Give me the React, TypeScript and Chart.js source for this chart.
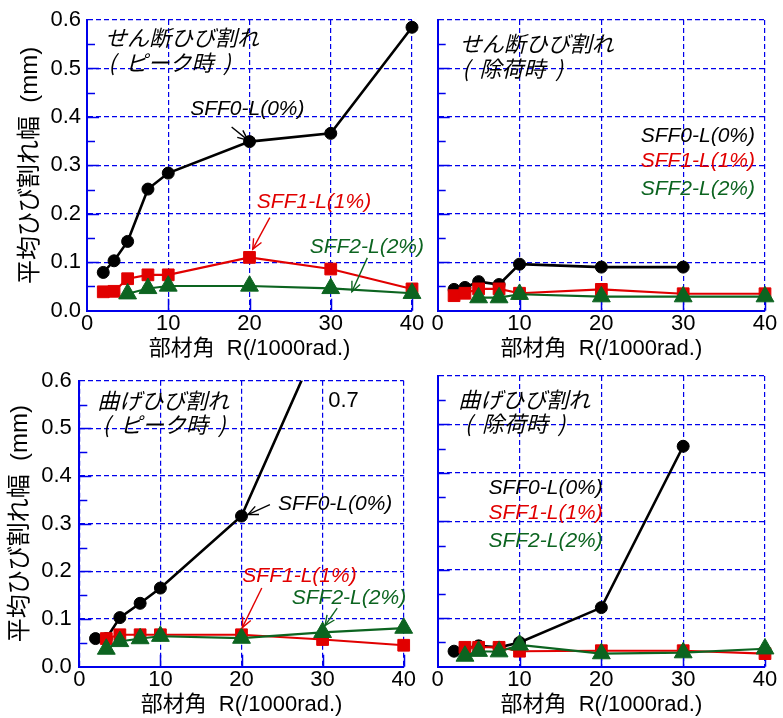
import React, { useEffect, useRef } from 'react';
import { Chart, registerables } from 'chart.js';

Chart.register(...registerables);

// ---------- colours & fonts ----------
const BLUE = 'rgb(0,0,235)';
const BLACK = '#000000';
const RED = 'rgb(225,0,0)';
const GREEN = 'rgb(12,100,32)';
const LAT = '"Liberation Sans", "Noto Sans CJK JP", sans-serif';
const JP = '"Noto Sans CJK JP", sans-serif';

// ---------- axis texts ----------
const X_TITLE = '部材角  R(/1000rad.)';
const Y_TITLE = '平均ひび割れ幅  (mm)';
const SERIES_NAMES = ['SFF0-L(0%)', 'SFF1-L(1%)', 'SFF2-L(2%)'];
const X_MIN = 0, X_MAX = 40, X_STEP = 10;
const Y_MIN = 0, Y_MAX = 0.6, Y_STEP = 0.1;

// ---------- panel 1 : shear crack, at peak ----------
const shearPeak0X = [2, 3.33, 5, 7.5, 10, 20, 30, 40];
const shearPeak0Y = [0.079, 0.103, 0.143, 0.251, 0.284, 0.349, 0.366, 0.585];
const shearPeak1X = [2, 3.33, 5, 7.5, 10, 20, 30, 40];
const shearPeak1Y = [0.039, 0.040, 0.066, 0.074, 0.074, 0.110, 0.086, 0.045];
const shearPeak2X = [5, 7.5, 10, 20, 30, 40];
const shearPeak2Y = [0.035, 0.046, 0.051, 0.051, 0.046, 0.036];

// ---------- panel 2 : shear crack, unloaded ----------
const shearUnl0X = [2, 3.33, 5, 7.5, 10, 20, 30];
const shearUnl0Y = [0.044, 0.048, 0.060, 0.054, 0.096, 0.090, 0.090];
const shearUnl1X = [2, 3.33, 5, 7.5, 10, 20, 30, 40];
const shearUnl1Y = [0.031, 0.036, 0.045, 0.045, 0.036, 0.044, 0.035, 0.035];
const shearUnl2X = [5, 7.5, 10, 20, 30, 40];
const shearUnl2Y = [0.027, 0.027, 0.034, 0.029, 0.029, 0.029];

// ---------- panel 3 : flexural crack, at peak ----------
const flexPeak0X = [2, 3.33, 5, 7.5, 10, 20, 30];
const flexPeak0Y = [0.059, 0.059, 0.103, 0.133, 0.165, 0.316, 0.7];
const flexPeak1X = [3.33, 5, 7.5, 10, 20, 30, 40];
const flexPeak1Y = [0.059, 0.067, 0.067, 0.067, 0.067, 0.057, 0.045];
const flexPeak2X = [3.33, 5, 7.5, 10, 20, 30, 40];
const flexPeak2Y = [0.037, 0.053, 0.059, 0.064, 0.060, 0.072, 0.081];

// ---------- panel 4 : flexural crack, unloaded ----------
const flexUnl0X = [2, 3.33, 5, 7.5, 10, 20, 30];
const flexUnl0Y = [0.032, 0.038, 0.043, 0.040, 0.050, 0.122, 0.455];
const flexUnl1X = [3.33, 5, 7.5, 10, 20, 30, 40];
const flexUnl1Y = [0.040, 0.040, 0.040, 0.032, 0.033, 0.033, 0.027];
const flexUnl2X = [3.33, 5, 7.5, 10, 20, 30, 40];
const flexUnl2Y = [0.022, 0.032, 0.031, 0.045, 0.027, 0.029, 0.037];

// ---------- annotation types ----------
type Note = { kind: 'jp' | 'lab' | 'num'; text: string; x: number; y: number; color: string };
type Arrow = { x1: number; y1: number; x2: number; y2: number; color: string };
type Series = { xs: number[]; ys: number[]; kind: 0 | 1 | 2; clipTop?: boolean };

interface Panel {
  left: number; top: number; width: number; height: number;
  padTop: number; padRight: number; yWidth: number; xHeight: number;
  showY: boolean; yTitlePad: number; yTickPad: number;
  series: Series[]; notes: Note[]; arrows: Arrow[];
}

const COLORS = [BLACK, RED, GREEN];
const STYLES = ['circle', 'rect', 'triangle'];
const RADII = [6, 8.3, 10.3];
const WIDTHS = [2.6, 2.1, 2.1];

const PANELS: Panel[] = [
  {
    left: 0, top: 0, width: 425, height: 362, padTop: 20, padRight: 13, yWidth: 87, xHeight: 51.3,
    showY: true, yTitlePad: 15.6, yTickPad: 6,
    series: [
      { xs: shearPeak0X, ys: shearPeak0Y, kind: 0 },
      { xs: shearPeak1X, ys: shearPeak1Y, kind: 1 },
      { xs: shearPeak2X, ys: shearPeak2Y, kind: 2 },
    ],
    notes: [
      { kind: 'jp', text: 'せん断ひび割れ', x: 2.2, y: 0.563, color: BLACK },
      { kind: 'jp', text: '(  ピーク時  )', x: 2.6, y: 0.512, color: BLACK },
      { kind: 'lab', text: SERIES_NAMES[0], x: 12.7, y: 0.415, color: BLACK },
      { kind: 'lab', text: SERIES_NAMES[1], x: 20.9, y: 0.225, color: RED },
      { kind: 'lab', text: SERIES_NAMES[2], x: 27.4, y: 0.132, color: GREEN },
    ],
    arrows: [
      { x1: 17.8, y1: 0.379, x2: 19.8, y2: 0.352, color: BLACK },
      { x1: 22.5, y1: 0.192, x2: 20.4, y2: 0.127, color: RED },
      { x1: 34.5, y1: 0.109, x2: 32.6, y2: 0.039, color: GREEN },
    ],
  },
  {
    left: 420, top: 0, width: 363, height: 362, padTop: 20, padRight: 18, yWidth: 17.7, xHeight: 51.3,
    showY: false, yTitlePad: 0, yTickPad: 6,
    series: [
      { xs: shearUnl0X, ys: shearUnl0Y, kind: 0 },
      { xs: shearUnl1X, ys: shearUnl1Y, kind: 1 },
      { xs: shearUnl2X, ys: shearUnl2Y, kind: 2 },
    ],
    notes: [
      { kind: 'jp', text: 'せん断ひび割れ', x: 2.7, y: 0.551, color: BLACK },
      { kind: 'jp', text: '(  除荷時  )', x: 3.0, y: 0.500, color: BLACK },
      { kind: 'lab', text: SERIES_NAMES[0], x: 24.8, y: 0.361, color: BLACK },
      { kind: 'lab', text: SERIES_NAMES[1], x: 24.8, y: 0.309, color: RED },
      { kind: 'lab', text: SERIES_NAMES[2], x: 24.8, y: 0.251, color: GREEN },
    ],
    arrows: [],
  },
  {
    left: 0, top: 360, width: 420, height: 358, padTop: 16, padRight: 16.3, yWidth: 79.3, xHeight: 51.3,
    showY: true, yTitlePad: 5.6, yTickPad: 7.5,
    series: [
      { xs: flexPeak0X, ys: flexPeak0Y, kind: 0, clipTop: true },
      { xs: flexPeak1X, ys: flexPeak1Y, kind: 1 },
      { xs: flexPeak2X, ys: flexPeak2Y, kind: 2 },
    ],
    notes: [
      { kind: 'jp', text: '曲げひび割れ', x: 2.2, y: 0.558, color: BLACK },
      { kind: 'jp', text: '(  ピーク時  )', x: 2.9, y: 0.507, color: BLACK },
      { kind: 'num', text: '0.7', x: 30.7, y: 0.558, color: BLACK },
      { kind: 'lab', text: SERIES_NAMES[0], x: 24.5, y: 0.34, color: BLACK },
      { kind: 'lab', text: SERIES_NAMES[1], x: 20.1, y: 0.191, color: RED },
      { kind: 'lab', text: SERIES_NAMES[2], x: 26.2, y: 0.144, color: GREEN },
    ],
    arrows: [
      { x1: 23.5, y1: 0.34, x2: 20.8, y2: 0.319, color: BLACK },
      { x1: 22.5, y1: 0.165, x2: 20.1, y2: 0.082, color: RED },
      { x1: 31.8, y1: 0.123, x2: 30.3, y2: 0.086, color: GREEN },
    ],
  },
  {
    left: 420, top: 360, width: 363, height: 358, padTop: 16, padRight: 18, yWidth: 17.7, xHeight: 51.3,
    showY: false, yTitlePad: 0, yTickPad: 6,
    series: [
      { xs: flexUnl0X, ys: flexUnl0Y, kind: 0 },
      { xs: flexUnl1X, ys: flexUnl1Y, kind: 1 },
      { xs: flexUnl2X, ys: flexUnl2Y, kind: 2 },
    ],
    notes: [
      { kind: 'jp', text: '曲げひび割れ', x: 2.5, y: 0.551, color: BLACK },
      { kind: 'jp', text: '(  除荷時  )', x: 3.3, y: 0.502, color: BLACK },
      { kind: 'lab', text: SERIES_NAMES[0], x: 6.2, y: 0.369, color: BLACK },
      { kind: 'lab', text: SERIES_NAMES[1], x: 6.2, y: 0.316, color: RED },
      { kind: 'lab', text: SERIES_NAMES[2], x: 6.2, y: 0.26, color: GREEN },
    ],
    arrows: [],
  },
];

function drawArrow(ctx: CanvasRenderingContext2D, x1: number, y1: number, x2: number, y2: number, color: string) {
  ctx.save();
  ctx.strokeStyle = color;
  ctx.lineWidth = 1.4;
  ctx.setLineDash([]);
  ctx.beginPath();
  ctx.moveTo(x1, y1);
  ctx.lineTo(x2, y2);
  ctx.stroke();
  const ang = Math.atan2(y2 - y1, x2 - x1);
  const len = 11, spread = 0.42;
  ctx.beginPath();
  ctx.moveTo(x2 - len * Math.cos(ang - spread), y2 - len * Math.sin(ang - spread));
  ctx.lineTo(x2, y2);
  ctx.lineTo(x2 - len * Math.cos(ang + spread), y2 - len * Math.sin(ang + spread));
  ctx.stroke();
  ctx.restore();
}

function makeOverlay(p: Panel) {
  return {
    id: 'overlay',
    beforeDatasetsDraw(chart: any) {
      const { ctx, chartArea: a, scales } = chart;
      const ys = scales.y, xs = scales.x;
      ctx.save();
      ctx.strokeStyle = BLUE;
      ctx.lineWidth = 1.5;
      ctx.setLineDash([]);
      for (let i = 1; i < 12; i++) {
        const v = i * 0.05;
        const py = Math.round(ys.getPixelForValue(v)) + 0.5;
        const len = i % 2 === 0 ? 12 : 8;
        ctx.beginPath();
        ctx.moveTo(a.left, py);
        ctx.lineTo(a.left + len, py);
        ctx.stroke();
      }
      for (let v = X_STEP; v <= X_MAX; v += X_STEP) {
        const px = Math.round(xs.getPixelForValue(v)) + 0.5;
        ctx.beginPath();
        ctx.moveTo(px, a.bottom);
        ctx.lineTo(px, a.bottom - 12);
        ctx.stroke();
      }
      ctx.restore();
    },
    afterDatasetsDraw(chart: any) {
      const { ctx, scales } = chart;
      const xs = scales.x, ys = scales.y;
      ctx.save();
      ctx.textBaseline = 'middle';
      ctx.textAlign = 'left';
      for (const n of p.notes) {
        if (n.kind === 'jp') ctx.font = `italic 22px ${JP}`;
        else if (n.kind === 'lab') ctx.font = `italic 21px ${LAT}`;
        else ctx.font = `22px ${LAT}`;
        ctx.fillStyle = n.color;
        ctx.fillText(n.text, xs.getPixelForValue(n.x), ys.getPixelForValue(n.y));
      }
      for (const ar of p.arrows) {
        drawArrow(ctx, xs.getPixelForValue(ar.x1), ys.getPixelForValue(ar.y1),
          xs.getPixelForValue(ar.x2), ys.getPixelForValue(ar.y2), ar.color);
      }
      ctx.restore();
    },
  };
}

function buildConfig(p: Panel): any {
  const datasets = p.series.map((s) => {
    const c = COLORS[s.kind];
    return {
      label: SERIES_NAMES[s.kind],
      data: s.xs.map((x, i) => ({ x, y: s.ys[i] })),
      borderColor: c,
      backgroundColor: c,
      borderWidth: WIDTHS[s.kind],
      pointStyle: STYLES[s.kind],
      pointRadius: RADII[s.kind],
      pointBorderWidth: 1,
      pointBorderColor: c,
      pointBackgroundColor: c,
      tension: 0,
      order: 2 - s.kind,
      clip: s.clipTop ? { left: false, right: false, bottom: false, top: 0 } : false,
    };
  });
  const tickFont = { family: LAT, size: 22 };
  return {
    type: 'line',
    data: { datasets },
    options: {
      animation: false,
      responsive: false,
      devicePixelRatio: 1,
      layout: { padding: { left: 0, top: p.padTop, right: p.padRight, bottom: 0 }, autoPadding: false },
      plugins: { legend: { display: false }, tooltip: { enabled: false }, title: { display: false } },
      scales: {
        x: {
          type: 'linear', min: X_MIN, max: X_MAX,
          ticks: { stepSize: X_STEP, padding: 0, color: BLACK, font: tickFont, maxRotation: 0, autoSkip: false },
          grid: { color: BLUE, lineWidth: 1.2, drawTicks: false },
          border: { display: true, color: BLUE, width: 2, dash: [5, 3] },
          title: { display: true, text: X_TITLE, color: BLACK, font: { family: LAT, size: 22 }, padding: { top: 0, bottom: 0 } },
          afterFit: (s: any) => { s.height = p.xHeight; },
        },
        y: {
          type: 'linear', min: Y_MIN, max: Y_MAX,
          ticks: {
            stepSize: Y_STEP, display: p.showY, padding: p.yTickPad, color: BLACK, font: tickFont,
            callback: (v: any) => Number(v).toFixed(1),
          },
          grid: { color: BLUE, lineWidth: 1.2, drawTicks: false },
          border: { display: true, color: BLUE, width: 2, dash: [5, 3] },
          title: { display: p.showY, text: Y_TITLE, color: BLACK, font: { family: LAT, size: 24 }, padding: { top: p.yTitlePad, bottom: 0 } },
          afterFit: (s: any) => { s.width = p.yWidth; },
        },
      },
    },
    plugins: [makeOverlay(p)],
  };
}

function PanelChart({ p }: { p: Panel }) {
  const ref = useRef<HTMLCanvasElement>(null);
  useEffect(() => {
    if (!ref.current) return;
    const chart = new Chart(ref.current, buildConfig(p));
    return () => chart.destroy();
  }, [p]);
  return (
    <canvas
      ref={ref}
      width={p.width}
      height={p.height}
      style={{ position: 'absolute', left: p.left, top: p.top, width: p.width, height: p.height }}
    />
  );
}

export default function App() {
  return (
    <div style={{ position: 'absolute', left: 0, top: 0, width: 783, height: 718, background: '#fff' }}>
      {PANELS.map((p, i) => (
        <PanelChart key={i} p={p} />
      ))}
    </div>
  );
}
